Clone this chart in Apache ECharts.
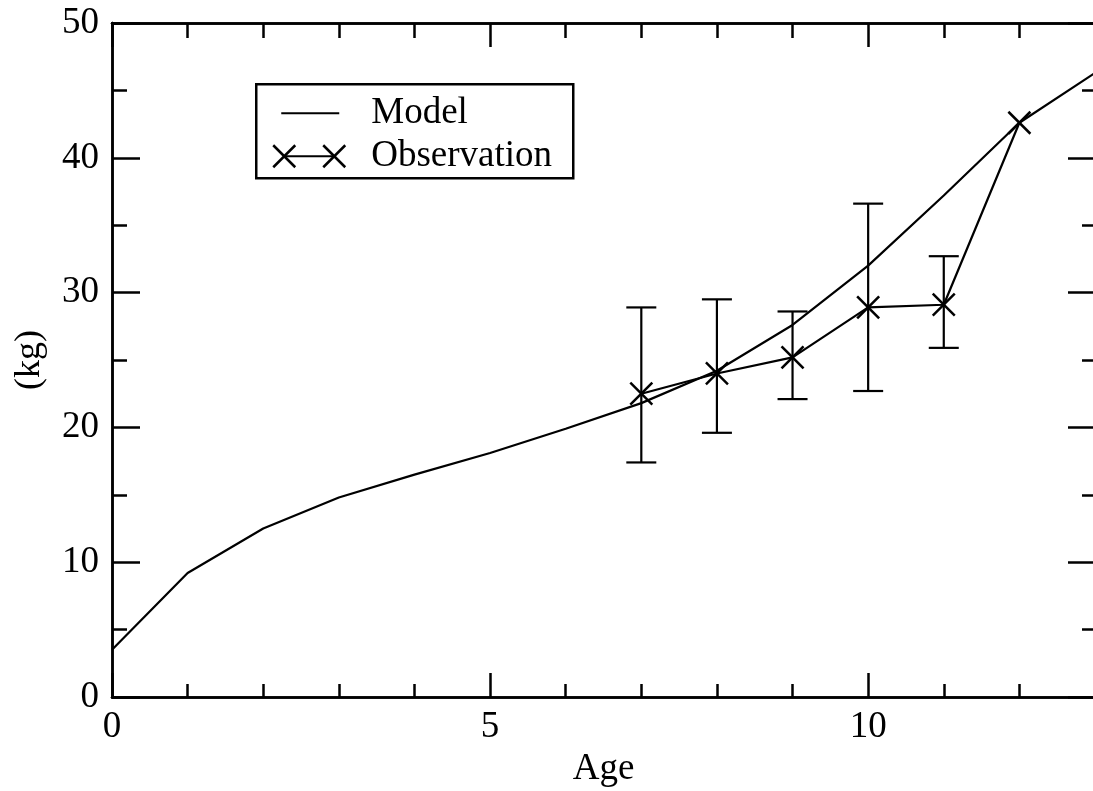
<!DOCTYPE html>
<html>
<head>
<meta charset="utf-8">
<script src="https://cdn.jsdelivr.net/npm/echarts@6/dist/echarts.min.js"></script>
<style>
  html, body { margin: 0; padding: 0; background: #fff; }
  #chart { width: 1093px; height: 791px; }
</style>
</head>
<body>
<div id="chart"></div>
<script>
// Body weight by age: model curve and observed means with ranges
const modelAges = [0, 1, 2, 3, 4, 5, 6, 7, 8, 9, 10, 11, 12, 13];
const modelKg = [3.5, 9.2, 12.5, 14.8, 16.5, 18.1, 19.9, 21.8, 24.2, 27.6, 32.0, 37.2, 42.6, 46.3];

const obsAges = [7, 8, 9, 10, 11, 12];
const obsKg = [22.5, 24.0, 25.2, 28.9, 29.1, 42.6];
const obsLow = [17.4, 19.6, 22.1, 22.7, 25.9, null];
const obsHigh = [28.9, 29.5, 28.6, 36.6, 32.7, null];

const xTickLabels = [0, 5, 10];
const yTickLabels = [0, 10, 20, 30, 40, 50];

const FONT = "'Liberation Serif', 'Times New Roman', serif";
const INK = '#000';
const AXIS_W = 2.5;
const LINE_W = 2.2;

const modelData = modelAges.map((a, i) => [a, modelKg[i]]);
const obsData = obsAges.map((a, i) => [a, obsKg[i]]);
const barData = obsAges
  .map((a, i) => [a, obsLow[i], obsHigh[i]])
  .filter(d => d[1] != null && d[2] != null);

function xAxisDef(position, interval, tickLen, withLabels) {
  return {
    type: 'value', position, min: 0, max: 13, interval,
    axisLine: { show: true, onZero: false, lineStyle: { color: INK, width: AXIS_W } },
    axisTick: { show: true, inside: true, length: tickLen, lineStyle: { color: INK, width: AXIS_W } },
    axisLabel: withLabels ? {
      show: true, margin: 12, color: INK, fontSize: 37, fontFamily: FONT,
      formatter: v => xTickLabels.includes(v) ? String(v) : ''
    } : { show: false },
    splitLine: { show: false },
    name: withLabels ? 'Age' : '',
    nameLocation: 'middle', nameGap: 53,
    nameTextStyle: { color: INK, fontSize: 37, fontFamily: FONT }
  };
}

function yAxisDef(position, interval, tickLen, withLabels) {
  return {
    type: 'value', position, min: 0, max: 50, interval,
    axisLine: { show: true, onZero: false, lineStyle: { color: INK, width: AXIS_W } },
    axisTick: { show: true, inside: true, length: tickLen, lineStyle: { color: INK, width: AXIS_W } },
    axisLabel: withLabels ? {
      show: true, margin: 13, color: INK, fontSize: 37, fontFamily: FONT,
      formatter: v => yTickLabels.includes(v) ? String(v) : ''
    } : { show: false },
    splitLine: { show: false },
    name: withLabels ? '(kg)' : '',
    nameLocation: 'middle', nameGap: 64, nameRotate: 90,
    nameTextStyle: { color: INK, fontSize: 36, fontFamily: FONT }
  };
}

// Error bars: vertical stem with horizontal caps
function renderBar(params, api) {
  const x = api.value(0);
  const lo = api.coord([x, api.value(1)]);
  const hi = api.coord([x, api.value(2)]);
  const cap = 15;
  const style = { stroke: INK, lineWidth: LINE_W };
  return {
    type: 'group',
    children: [
      { type: 'line', shape: { x1: lo[0], y1: lo[1], x2: hi[0], y2: hi[1] }, style },
      { type: 'line', shape: { x1: lo[0] - cap, y1: lo[1], x2: lo[0] + cap, y2: lo[1] }, style },
      { type: 'line', shape: { x1: hi[0] - cap, y1: hi[1], x2: hi[0] + cap, y2: hi[1] }, style }
    ]
  };
}

// Cross markers at observed means
function renderCross(params, api) {
  const p = api.coord([api.value(0), api.value(1)]);
  const h = 11;
  const style = { stroke: INK, lineWidth: 2.5 };
  return {
    type: 'group',
    children: [
      { type: 'line', shape: { x1: p[0] - h, y1: p[1] - h, x2: p[0] + h, y2: p[1] + h }, style },
      { type: 'line', shape: { x1: p[0] - h, y1: p[1] + h, x2: p[0] + h, y2: p[1] - h }, style }
    ]
  };
}

const chart = echarts.init(document.getElementById('chart'), null, { renderer: 'canvas' });

chart.setOption({
  animation: false,
  backgroundColor: '#fff',
  grid: {
    left: 112, top: 23, width: 983, height: 674,
    containLabel: false, outerBoundsMode: 'none'
  },
  xAxis: [
    xAxisDef('bottom', 5, 24, true),
    xAxisDef('bottom', 1, 13, false),
    xAxisDef('top', 5, 24, false),
    xAxisDef('top', 1, 15, false)
  ],
  yAxis: [
    yAxisDef('left', 10, 28, true),
    yAxisDef('left', 5, 15, false),
    yAxisDef('right', 10, 27, false),
    yAxisDef('right', 5, 13, false)
  ],
  series: [
    {
      name: 'Model', type: 'line', data: modelData,
      xAxisIndex: 0, yAxisIndex: 0,
      showSymbol: false, lineStyle: { color: INK, width: LINE_W }
    },
    {
      name: 'Observation', type: 'line', data: obsData,
      xAxisIndex: 0, yAxisIndex: 0,
      showSymbol: false, lineStyle: { color: INK, width: LINE_W }
    },
    {
      name: 'Observation range', type: 'custom', data: barData,
      xAxisIndex: 0, yAxisIndex: 0,
      renderItem: renderBar, encode: { x: 0, y: [1, 2] }
    },
    {
      name: 'Observation marks', type: 'custom', data: obsData,
      xAxisIndex: 0, yAxisIndex: 0,
      renderItem: renderCross, encode: { x: 0, y: 1 }
    }
  ],
  graphic: [
    {
      type: 'group', left: 255, top: 83,
      children: [
        { type: 'rect', shape: { x: 0, y: 0, width: 317, height: 94 },
          style: { fill: '#fff', stroke: INK, lineWidth: AXIS_W } },
        { type: 'line', shape: { x1: 25, y1: 29, x2: 83, y2: 29 },
          style: { stroke: INK, lineWidth: LINE_W } },
        { type: 'text', x: 115, y: 29,
          style: { text: 'Model', fill: INK, font: "37px " + FONT, verticalAlign: 'middle' } },
        { type: 'line', shape: { x1: 28, y1: 72, x2: 78, y2: 72 },
          style: { stroke: INK, lineWidth: LINE_W } },
        { type: 'line', shape: { x1: 17, y1: 61, x2: 39, y2: 83 }, style: { stroke: INK, lineWidth: 2.5 } },
        { type: 'line', shape: { x1: 17, y1: 83, x2: 39, y2: 61 }, style: { stroke: INK, lineWidth: 2.5 } },
        { type: 'line', shape: { x1: 67, y1: 61, x2: 89, y2: 83 }, style: { stroke: INK, lineWidth: 2.5 } },
        { type: 'line', shape: { x1: 67, y1: 83, x2: 89, y2: 61 }, style: { stroke: INK, lineWidth: 2.5 } },
        { type: 'text', x: 115, y: 72,
          style: { text: 'Observation', fill: INK, font: "37px " + FONT, verticalAlign: 'middle' } }
      ]
    }
  ]
});
</script>
</body>
</html>
